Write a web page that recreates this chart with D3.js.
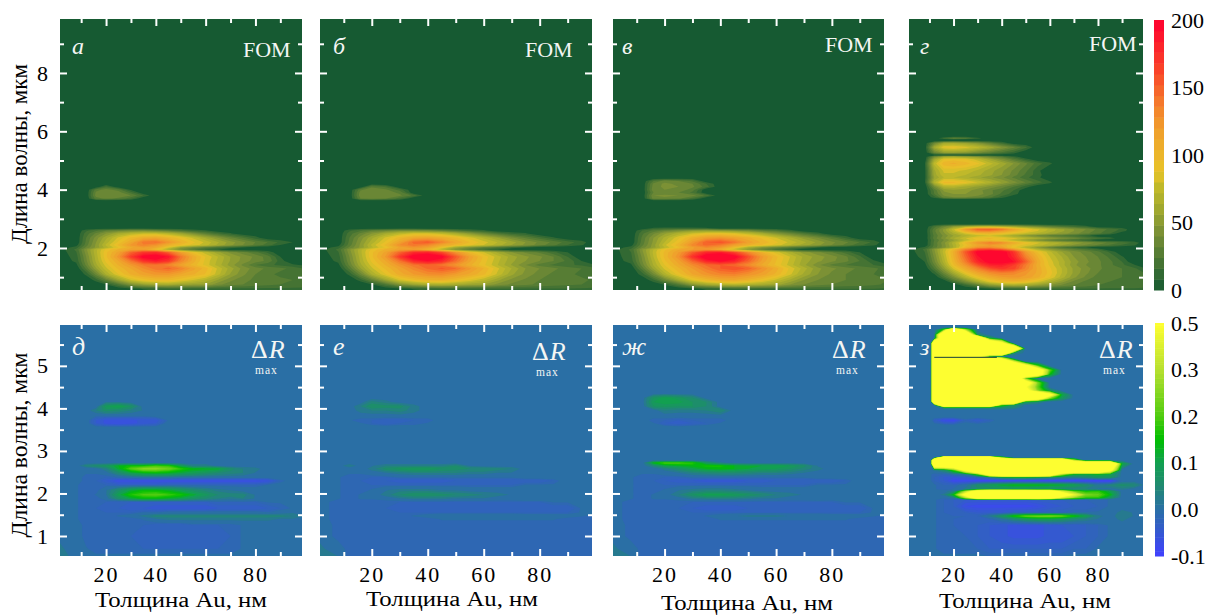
<!DOCTYPE html>
<html>
<head>
<meta charset="utf-8">
<script src="https://cdnjs.cloudflare.com/ajax/libs/d3/7.8.5/d3.min.js"></script>
<style>
  html, body { margin: 0; background: #fff; }
  svg { display: block; font-family: "Liberation Serif", serif; }
</style>
</head>
<body>
<svg id="chart" width="1214" height="615"></svg>
<script>
// thickness columns, nm. Panel z has a sharper left edge so its second column sits further in
const thickness = [0,8,12,16,20,25,30,35,40,45,50,55,60,65,70,75,80,85,90,95,100];
const thicknessD = [0,10.5,12,16,20,25,30,35,40,45,50,55,60,65,70,75,80,85,90,95,100];

// FOM panels: wavelength rows (um) and values, one line per row
const fomRows = [0.4,0.6,0.75,0.9,1.1,1.3,1.42,1.55,1.7,1.85,1.95,2.02,2.1,2.2,2.35,2.5,2.6,2.68,2.76,3.62,3.7,3.8,3.9,4.0,4.1,4.2,4.3,4.4,10];
const fomA = [
  [0,0,0,0,0,0,0,0,0,0,0,0,0,0,0,0,0,0,0,0,0],
  [0,0,0,0,0,0,4,9,12,14,14,14,14,14,14,14,14,14,14,14,14],
  [0,0,0,0,8,24,45,55,62,64,60,55,55,42,36,32,28,26,24,22,20],
  [0,0,0,12,32,58,80,92,98,98,90,80,70,55,42,35,30,28,26,24,20],
  [0,0,10,36,65,88,105,115,122,122,112,105,95,75,55,42,32,26,22,20,16],
  [0,0,26,55,78,98,112,128,140,148,135,115,100,78,60,45,36,30,26,22,15],
  [0,5,34,62,84,105,122,138,142,132,115,100,85,68,52,38,24,18,14,10,6],
  [0,10,38,66,90,112,140,172,186,172,134,108,85,70,55,45,36,30,12,0,0],
  [0,12,40,68,94,124,168,200,205,190,142,110,88,72,56,46,38,28,8,0,0],
  [0,15,44,70,94,115,148,170,175,150,118,92,75,58,45,35,26,14,0,0,0],
  [0,18,46,70,90,105,115,115,95,65,40,25,15,8,0,0,0,0,0,0,0],
  [0,12,34,50,68,88,110,120,112,85,55,40,30,22,15,8,0,0,0,0,0],
  [0,4,28,50,74,98,122,135,125,105,95,85,75,62,50,40,30,20,8,0,0],
  [0,0,26,48,68,90,112,140,145,125,105,90,78,65,52,42,32,24,14,8,0],
  [0,0,24,44,62,82,98,108,112,102,92,78,62,48,35,24,12,0,0,0,0],
  [0,0,20,34,48,62,72,78,78,70,58,44,30,18,9,0,0,0,0,0,0],
  [0,0,14,22,30,36,40,40,36,30,22,14,9,0,0,0,0,0,0,0,0],
  [0,0,0,0,0,0,0,0,0,0,0,0,0,0,0,0,0,0,0,0,0],
  [0,0,0,0,0,0,0,0,0,0,0,0,0,0,0,0,0,0,0,0,0],
  [0,0,0,0,0,0,0,0,0,0,0,0,0,0,0,0,0,0,0,0,0],
  [0,0,0,28,34,30,18,0,0,0,0,0,0,0,0,0,0,0,0,0,0],
  [0,0,0,36,40,38,32,16,0,0,0,0,0,0,0,0,0,0,0,0,0],
  [0,0,0,34,40,36,20,0,0,0,0,0,0,0,0,0,0,0,0,0,0],
  [0,0,0,28,36,28,6,0,0,0,0,0,0,0,0,0,0,0,0,0,0],
  [0,0,0,0,20,0,0,0,0,0,0,0,0,0,0,0,0,0,0,0,0],
  [0,0,0,0,0,0,0,0,0,0,0,0,0,0,0,0,0,0,0,0,0],
  [0,0,0,0,0,0,0,0,0,0,0,0,0,0,0,0,0,0,0,0,0],
  [0,0,0,0,0,0,0,0,0,0,0,0,0,0,0,0,0,0,0,0,0],
  [0,0,0,0,0,0,0,0,0,0,0,0,0,0,0,0,0,0,0,0,0]
];
const fomB = [
  [0,0,0,0,0,0,0,0,0,0,0,0,0,0,0,0,0,0,0,0,0],
  [0,0,0,0,0,0,4,9,12,14,15,15,15,15,15,15,15,15,15,15,14],
  [0,0,0,0,8,24,46,58,66,68,64,58,56,45,38,34,30,28,26,24,20],
  [0,0,0,12,32,58,82,95,102,104,96,85,74,58,45,38,32,30,28,26,22],
  [0,0,10,36,65,88,108,120,128,130,120,110,98,78,58,45,36,30,26,22,18],
  [0,0,26,55,78,98,115,132,146,155,145,122,104,82,64,48,40,34,28,24,18],
  [0,5,34,62,84,105,125,142,148,140,124,106,90,72,55,40,28,22,18,14,8],
  [0,10,38,66,90,112,142,178,192,180,145,114,92,74,58,48,40,32,22,8,0],
  [0,12,40,68,94,122,170,206,212,200,155,118,94,76,60,50,42,32,16,0,0],
  [0,15,44,70,94,115,148,176,182,160,126,98,80,62,48,38,30,18,8,0,0],
  [0,18,46,70,90,105,116,118,100,70,44,28,16,8,0,0,0,0,0,0,0],
  [0,12,34,50,70,90,114,125,118,92,60,44,32,24,15,8,0,0,0,0,0],
  [0,4,28,50,74,98,128,142,132,112,100,90,80,68,56,46,36,26,16,9,0],
  [0,0,26,48,68,90,116,148,155,135,112,96,84,72,60,48,38,30,20,12,0],
  [0,0,24,44,62,82,100,112,116,108,98,84,70,56,42,30,20,9,0,0,0],
  [0,0,20,34,48,62,74,82,82,76,64,50,36,24,14,9,0,0,0,0,0],
  [0,0,14,22,30,36,42,42,38,32,24,16,10,0,0,0,0,0,0,0,0],
  [0,0,0,0,0,0,0,0,0,0,0,0,0,0,0,0,0,0,0,0,0],
  [0,0,0,0,0,0,0,0,0,0,0,0,0,0,0,0,0,0,0,0,0],
  [0,0,0,0,0,0,0,0,0,0,0,0,0,0,0,0,0,0,0,0,0],
  [0,0,0,32,36,32,20,0,0,0,0,0,0,0,0,0,0,0,0,0,0],
  [0,0,0,38,40,38,34,22,0,0,0,0,0,0,0,0,0,0,0,0,0],
  [0,0,0,36,40,36,30,0,0,0,0,0,0,0,0,0,0,0,0,0,0],
  [0,0,0,30,38,34,20,0,0,0,0,0,0,0,0,0,0,0,0,0,0],
  [0,0,0,0,30,22,0,0,0,0,0,0,0,0,0,0,0,0,0,0,0],
  [0,0,0,0,0,0,0,0,0,0,0,0,0,0,0,0,0,0,0,0,0],
  [0,0,0,0,0,0,0,0,0,0,0,0,0,0,0,0,0,0,0,0,0],
  [0,0,0,0,0,0,0,0,0,0,0,0,0,0,0,0,0,0,0,0,0],
  [0,0,0,0,0,0,0,0,0,0,0,0,0,0,0,0,0,0,0,0,0]
];
const fomC = [
  [0,0,0,0,0,0,0,0,0,0,0,0,0,0,0,0,0,0,0,0,0],
  [0,0,0,0,0,0,5,10,13,15,16,16,16,16,16,16,16,16,16,16,15],
  [0,0,0,0,9,26,50,62,70,74,70,64,60,48,40,36,32,30,28,26,22],
  [0,0,0,14,36,62,86,100,108,110,102,92,78,62,48,40,34,32,30,28,24],
  [0,0,12,38,68,92,112,124,134,136,126,116,102,82,62,48,38,32,28,24,20],
  [0,0,28,58,82,102,120,138,152,160,150,128,108,86,68,50,42,36,30,26,20],
  [0,6,36,65,88,110,130,146,152,146,130,110,94,76,58,42,30,24,20,16,10],
  [0,12,40,68,94,116,148,182,196,184,150,118,96,78,60,50,42,34,24,10,0],
  [0,14,42,72,98,126,174,208,214,204,160,122,98,80,62,52,44,34,18,0,0],
  [0,16,46,74,98,120,152,180,186,165,132,104,84,66,52,42,32,20,8,0,0],
  [0,18,48,72,94,110,120,122,105,75,50,32,20,10,0,0,0,0,0,0,0],
  [0,12,36,52,72,94,118,130,122,96,66,48,36,28,20,10,0,0,0,0,0],
  [0,4,30,52,78,102,132,148,138,118,105,95,85,72,60,50,40,30,18,10,0],
  [0,0,28,50,72,94,122,152,158,142,118,102,90,78,66,54,42,34,24,14,0],
  [0,0,26,48,66,86,106,120,124,116,106,94,80,66,52,40,28,14,0,0,0],
  [0,0,22,38,54,68,80,88,90,84,74,62,48,36,24,12,0,0,0,0,0],
  [0,0,16,26,34,42,50,52,50,46,40,30,22,12,0,0,0,0,0,0,0],
  [0,0,0,10,12,12,12,10,0,0,0,0,0,0,0,0,0,0,0,0,0],
  [0,0,0,0,0,0,0,0,0,0,0,0,0,0,0,0,0,0,0,0,0],
  [0,0,0,0,0,0,0,0,0,0,0,0,0,0,0,0,0,0,0,0,0],
  [0,0,0,36,38,34,20,0,0,0,0,0,0,0,0,0,0,0,0,0,0],
  [0,0,0,40,42,40,36,22,0,0,0,0,0,0,0,0,0,0,0,0,0],
  [0,0,0,32,34,32,22,0,0,0,0,0,0,0,0,0,0,0,0,0,0],
  [0,0,0,38,40,38,28,0,0,0,0,0,0,0,0,0,0,0,0,0,0],
  [0,0,0,36,42,40,34,20,0,0,0,0,0,0,0,0,0,0,0,0,0],
  [0,0,0,34,42,38,32,16,0,0,0,0,0,0,0,0,0,0,0,0,0],
  [0,0,0,24,36,32,22,0,0,0,0,0,0,0,0,0,0,0,0,0,0],
  [0,0,0,0,0,0,0,0,0,0,0,0,0,0,0,0,0,0,0,0,0],
  [0,0,0,0,0,0,0,0,0,0,0,0,0,0,0,0,0,0,0,0,0]
];

// panel g has its own rows, the upper group is much taller
const fomRowsD = [0.4,0.6,0.72,0.85,1.0,1.14,1.3,1.42,1.53,1.7,1.87,1.96,2.02,2.09,2.18,2.27,2.33,2.42,2.5,2.58,2.64,2.74,2.82,3.66,3.74,3.85,3.98,4.1,4.25,4.42,4.5,4.65,4.9,5.04,5.13,5.18,5.27,5.45,5.6,5.68,5.71,5.76,5.83,10];
const fomD = [
  [0,0,0,0,0,0,0,0,0,0,0,0,0,0,0,0,0,0,0,0,0],
  [0,0,0,0,0,0,0,6,12,14,15,15,15,15,15,15,15,15,15,15,15],
  [0,0,0,0,0,14,30,48,58,62,60,54,46,38,32,28,24,22,22,20,18],
  [0,0,0,0,20,42,66,86,98,102,96,84,68,52,38,30,26,24,22,22,20],
  [0,0,0,20,42,70,92,108,118,122,118,106,88,68,50,38,28,26,24,22,18],
  [0,0,10,36,62,90,112,128,136,132,122,110,92,72,54,42,32,28,24,22,15],
  [0,0,24,52,82,110,135,158,170,164,134,110,90,72,54,44,34,28,24,18,8],
  [0,4,32,62,95,125,158,182,185,168,138,108,86,68,50,40,34,26,18,9,0],
  [0,8,38,68,100,138,180,200,202,192,152,110,84,68,52,42,34,26,16,0,0],
  [0,12,42,72,104,148,190,206,206,180,136,104,80,64,48,40,32,22,9,0,0],
  [0,16,46,76,106,155,200,212,206,172,122,94,74,56,44,36,26,14,0,0,0],
  [0,18,48,74,98,132,158,162,148,120,92,70,52,40,30,22,14,0,0,0,0],
  [0,10,28,44,64,100,125,130,118,90,70,50,34,22,14,8,0,0,0,0,0],
  [0,0,26,44,66,92,112,120,110,94,84,76,66,56,46,38,30,22,14,9,0],
  [0,0,26,46,68,98,124,138,130,110,94,82,72,64,56,46,38,30,22,14,0],
  [0,0,24,40,54,74,90,94,86,72,56,44,32,24,18,12,0,0,0,0,0],
  [0,0,28,46,64,80,94,98,92,84,74,64,54,46,38,28,20,14,0,0,0],
  [0,0,26,42,56,68,76,80,72,60,48,38,30,24,18,12,0,0,0,0,0],
  [0,0,28,46,64,82,98,100,94,86,78,70,60,52,44,34,26,16,0,0,0],
  [0,0,30,50,74,108,132,134,120,104,92,80,68,58,48,38,28,20,12,0,0],
  [0,0,28,50,78,122,150,155,142,116,96,82,70,58,48,40,30,22,14,0,0],
  [0,0,20,36,50,60,66,66,62,56,48,40,30,24,18,12,0,0,0,0,0],
  [0,0,0,0,0,0,0,0,0,0,0,0,0,0,0,0,0,0,0,0,0],
  [0,0,0,0,0,0,0,0,0,0,0,0,0,0,0,0,0,0,0,0,0],
  [0,0,12,36,40,40,36,26,12,0,0,0,0,0,0,0,0,0,0,0,0],
  [0,0,24,44,48,48,44,36,22,12,0,0,0,0,0,0,0,0,0,0,0],
  [0,0,26,50,54,52,44,34,26,16,0,0,0,0,0,0,0,0,0,0,0],
  [0,0,40,68,70,62,54,46,36,24,12,0,0,0,0,0,0,0,0,0,0],
  [0,6,70,98,98,90,80,68,56,44,32,20,10,0,0,0,0,0,0,0,0],
  [0,4,56,72,72,66,58,50,42,30,18,10,0,0,0,0,0,0,0,0,0],
  [0,4,60,78,78,72,66,58,48,36,22,12,0,0,0,0,0,0,0,0,0],
  [0,4,62,82,82,78,70,60,50,38,26,10,0,0,0,0,0,0,0,0,0],
  [0,6,75,102,106,100,90,76,62,48,34,20,10,0,0,0,0,0,0,0,0],
  [0,0,60,88,92,88,76,60,44,28,12,0,0,0,0,0,0,0,0,0,0],
  [0,0,40,60,62,58,50,38,26,12,0,0,0,0,0,0,0,0,0,0,0],
  [0,0,0,0,0,0,0,0,0,0,0,0,0,0,0,0,0,0,0,0,0],
  [0,0,36,54,56,52,42,32,22,12,0,0,0,0,0,0,0,0,0,0,0],
  [0,0,62,88,90,84,74,62,48,34,18,0,0,0,0,0,0,0,0,0,0],
  [0,0,36,60,62,56,46,32,16,0,0,0,0,0,0,0,0,0,0,0,0],
  [0,0,0,0,0,0,0,0,0,0,0,0,0,0,0,0,0,0,0,0,0],
  [0,0,0,0,0,0,0,0,0,0,0,0,0,0,0,0,0,0,0,0,0],
  [0,0,0,18,34,28,12,0,0,0,0,0,0,0,0,0,0,0,0,0,0],
  [0,0,0,0,0,0,0,0,0,0,0,0,0,0,0,0,0,0,0,0,0],
  [0,0,0,0,0,0,0,0,0,0,0,0,0,0,0,0,0,0,0,0,0]
];

// dR panels, values in hundredths
const dRRows = [0.4,0.7,1.0,1.25,1.4,1.47,1.55,1.65,1.8,1.88,1.97,2.08,2.2,2.3,2.38,2.48,2.58,2.65,2.72,2.78,3.55,3.65,3.72,3.82,3.95,4.05,4.15,4.25,4.35,6.2];
const dRA = [
  [2,1,0,0,0,0,0,0,0,0,0,0,0,0,0,0,0,0,0,0,0],
  [2,0,-1,-2,-2,-2,-2,-2,-2,-2,-2,-2,-2,-2,-2,-1,-1,-1,-1,-1,-1],
  [1,0,-2,-2,-2,-2,-2,-3,-3,-3,-3,-3,-3,-3,-2,-1,-1,-1,-1,-1,-1],
  [0,0,-2,-2,-2,-2,-2,-2,-3,-3,-3,-2,-2,-2,-2,-1,-1,-1,-1,-1,0],
  [0,-1,-2,-2,-2,-2,-2,-1,1,2,2,2,2,2,2,2,2,2,1,1,0],
  [0,-1,-2,-2,-2,-1,0,2,4,4,4,4,4,4,4,4,4,4,4,3,1],
  [0,-1,-2,-2,-2,-2,-2,-1,-1,0,0,0,0,0,0,0,0,-1,0,1,0],
  [0,-1,-2,-2,-3,-3,-4,-4,-5,-5,-5,-5,-5,-4,-4,-4,-4,-3,-2,-1,0],
  [0,-1,-2,-2,-2,-3,-3,-3,-3,-3,-3,-3,-3,-2,-2,-2,-2,-1,-1,0,0],
  [0,-1,-2,-2,0,6,11,14,14,12,10,7,5,3,2,3,1,0,0,0,0],
  [0,-1,-2,-1,1,10,17,20,21,19,16,12,8,5,4,4,1,0,0,0,0],
  [0,-1,-2,-2,1,6,11,14,14,12,9,6,4,2,1,0,0,0,0,0,0],
  [0,-1,-2,-2,-2,-3,-3,-3,-3,-2,-2,-2,-2,-2,-2,-2,-2,-1,0,0,0],
  [0,0,-2,-2,-4,-7,-7,-7,-7,-7,-7,-7,-7,-7,-7,-7,-7,-6,-2,0,0],
  [0,0,-2,-2,-2,-1,0,1,1,1,0,0,0,0,0,0,0,0,1,1,0],
  [0,0,-1,-1,0,5,10,13,14,13,11,9,7,5,4,3,1,1,0,0,0],
  [0,0,-1,0,3,12,21,26,26,23,18,14,13,12,6,3,2,0,0,0,0],
  [0,0,4,6,8,13,16,16,19,18,10,3,3,0,0,0,0,0,0,0,0],
  [0,0,0,0,0,0,0,0,0,0,0,0,0,0,0,0,0,0,0,0,0],
  [0,0,0,0,0,0,0,0,0,0,0,0,0,0,0,0,0,0,0,0,0],
  [0,0,0,0,0,0,0,0,0,0,0,0,0,0,0,0,0,0,0,0,0],
  [0,0,0,-4,-6,-7,-6,-5,-4,0,0,0,0,0,0,0,0,0,0,0,0],
  [0,0,0,-4,-6,-6,-6,-5,-5,-1,0,0,0,0,0,0,0,0,0,0,0],
  [0,0,0,-1,-1,-1,-1,-1,0,0,0,0,0,0,0,0,0,0,0,0,0],
  [0,0,0,3,6,5,3,1,0,0,0,0,0,0,0,0,0,0,0,0,0],
  [0,0,0,0,9,11,7,0,0,0,0,0,0,0,0,0,0,0,0,0,0],
  [0,0,0,0,1,1,0,0,0,0,0,0,0,0,0,0,0,0,0,0,0],
  [0,0,0,0,0,0,0,0,0,0,0,0,0,0,0,0,0,0,0,0,0],
  [0,0,0,0,0,0,0,0,0,0,0,0,0,0,0,0,0,0,0,0,0],
  [0,0,0,0,0,0,0,0,0,0,0,0,0,0,0,0,0,0,0,0,0]
];
const dRB = [
  [2,2,-2,-2,-2,-2,-2,-2,-2,-2,-2,-2,-2,-2,-2,-2,-2,-2,-2,-2,-2],
  [2,0,-2,-2,-2,-2,-2,-2,-2,-2,-2,-2,-2,-2,-2,-2,-2,-2,-2,-2,-2],
  [1,-2,-2,-2,-2,-2,-2,-2,-2,-2,-2,-2,-2,-2,-2,-2,-2,-2,-2,-2,-2],
  [1,-2,-2,-2,-2,-2,-2,-2,-2,-2,-2,-2,-2,-2,-2,-2,-2,-2,-2,-2,-2],
  [0,-2,-2,-2,-2,-2,-2,-2,-2,-1,-1,-1,-1,-1,-1,-1,-1,-1,-2,-2,-2],
  [0,-2,-2,-2,-2,-2,-2,-1,0,1,1,1,1,1,1,0,0,0,0,-1,-2],
  [0,-2,-2,-2,-2,-2,-2,-2,-2,-2,-2,-2,-2,-2,-2,-2,-2,-2,-2,-1,0],
  [0,-2,-2,-2,-2,-2,-3,-3,-3,-3,-3,-3,-3,-3,-3,-3,-3,-3,-3,-1,0],
  [0,-2,-2,-2,-2,-2,-2,-2,-2,-2,-2,-2,-2,-2,-2,-2,-2,-1,-1,0,0],
  [0,-1,-2,-1,-1,0,1,2,2,2,1,1,1,0,0,1,1,0,0,0,0],
  [0,-1,-2,-1,0,2,5,7,7,6,5,4,3,2,1,1,0,0,0,0,0],
  [0,-1,-2,-2,-1,1,2,2,2,1,1,0,0,0,0,0,0,0,0,0,0],
  [0,-1,-2,-2,-2,-2,-2,-2,-2,-2,-2,-2,-2,-2,-2,-1,-1,-1,0,0,0],
  [0,-1,-2,-2,-3,-3,-4,-4,-4,-4,-3,-3,-3,-3,-3,-3,-3,-2,0,0,0],
  [0,-1,-2,-2,-2,-2,-1,-1,-1,-1,-1,-1,-1,-1,-1,0,0,0,0,0,0],
  [0,0,-1,-1,0,1,2,3,3,3,3,2,2,1,1,0,0,0,0,0,0],
  [0,0,-1,0,2,6,8,9,9,7,6,5,5,4,3,0,0,0,0,0,0],
  [0,0,3,0,1,3,3,3,3,3,5,1,0,0,0,0,0,0,0,0,0],
  [0,0,0,0,0,0,0,0,0,0,0,0,0,0,0,0,0,0,0,0,0],
  [0,0,0,0,0,0,0,0,0,0,0,0,0,0,0,0,0,0,0,0,0],
  [0,0,0,0,0,0,0,0,0,0,0,0,0,0,0,0,0,0,0,0,0],
  [0,0,0,-1,-2,-3,-2,-2,-1,0,0,0,0,0,0,0,0,0,0,0,0],
  [0,0,-1,-2,-2,-3,-3,-2,-2,0,0,0,0,0,0,0,0,0,0,0,0],
  [0,0,0,0,0,0,0,0,0,0,0,0,0,0,0,0,0,0,0,0,0],
  [0,0,0,2,3,3,4,2,0,0,0,0,0,0,0,0,0,0,0,0,0],
  [0,0,0,3,7,6,6,2,0,0,0,0,0,0,0,0,0,0,0,0,0],
  [0,0,0,0,4,2,0,0,0,0,0,0,0,0,0,0,0,0,0,0,0],
  [0,0,0,0,0,0,0,0,0,0,0,0,0,0,0,0,0,0,0,0,0],
  [0,0,0,0,0,0,0,0,0,0,0,0,0,0,0,0,0,0,0,0,0],
  [0,0,0,0,0,0,0,0,0,0,0,0,0,0,0,0,0,0,0,0,0]
];
const dRC = [
  [2,2,-2,-2,-2,-2,-2,-2,-2,-2,-2,-2,-2,-2,-2,-2,-2,-2,-2,-2,-2],
  [2,0,-2,-2,-2,-2,-2,-2,-2,-2,-2,-2,-2,-2,-2,-2,-2,-2,-2,-2,-2],
  [1,-2,-2,-2,-2,-2,-2,-2,-2,-2,-2,-2,-2,-2,-2,-2,-2,-2,-2,-2,-2],
  [1,-2,-2,-2,-2,-2,-2,-2,-2,-2,-2,-2,-2,-2,-2,-2,-2,-2,-2,-2,-2],
  [0,-2,-2,-2,-2,-2,-2,-2,-1,-1,-1,-1,-1,-1,-1,-1,-1,-1,-2,-2,-2],
  [0,-2,-2,-2,-2,-2,-2,-1,0,1,2,2,2,1,1,1,0,0,0,-1,-2],
  [0,-2,-2,-2,-2,-2,-2,-2,-2,-2,-2,-2,-2,-2,-2,-2,-2,-2,-2,-1,0],
  [0,-2,-2,-2,-2,-2,-3,-4,-4,-4,-3,-3,-3,-3,-3,-3,-3,-3,-3,-1,0],
  [0,-2,-2,-2,-2,-2,-2,-2,-2,-2,-2,-2,-2,-2,-2,-2,-2,-1,-1,0,0],
  [0,-1,-2,-1,-1,0,2,3,3,3,2,1,1,0,0,1,0,0,0,0,0],
  [0,-1,-2,-1,0,3,7,10,10,9,7,5,3,2,1,1,0,0,0,0,0],
  [0,-1,-2,-2,-1,1,2,3,3,2,1,0,0,0,0,0,0,0,0,0,0],
  [0,-1,-2,-2,-2,-2,-2,-2,-2,-2,-2,-2,-2,-2,-2,-1,-1,-1,0,0,0],
  [0,-1,-2,-2,-3,-4,-4,-5,-5,-5,-4,-4,-3,-3,-3,-3,-3,-2,0,0,0],
  [0,-1,-2,-2,-2,-2,-1,-1,-1,-1,-1,-1,-1,-1,-1,0,0,0,0,0,0],
  [0,0,-1,-1,0,1,3,4,5,5,4,3,3,2,1,0,0,0,0,0,0],
  [0,0,-1,0,2,6,10,13,14,13,11,10,9,7,4,2,0,0,0,0,0],
  [0,0,0,4,10,12,14,16,16,13,11,11,11,9,6,1,1,0,0,0,0],
  [0,0,0,14,20,20,18,8,2,0,0,0,0,0,0,0,0,0,0,0,0],
  [0,0,0,0,0,0,0,0,0,0,0,0,0,0,0,0,0,0,0,0,0],
  [0,0,0,0,0,0,0,0,0,0,0,0,0,0,0,0,0,0,0,0,0],
  [0,0,0,-1,-3,-4,-3,-2,-1,0,0,0,0,0,0,0,0,0,0,0,0],
  [0,0,0,-2,-2,-3,-2,-2,-2,0,0,0,0,0,0,0,0,0,0,0,0],
  [0,0,0,0,0,0,0,0,0,0,0,0,0,0,0,0,0,0,0,0,0],
  [0,0,0,0,3,2,2,3,5,0,0,0,0,0,0,0,0,0,0,0,0],
  [0,0,0,7,8,7,7,5,0,0,0,0,0,0,0,0,0,0,0,0,0],
  [0,0,0,9,10,10,7,5,0,0,0,0,0,0,0,0,0,0,0,0,0],
  [0,0,0,7,10,8,5,0,0,0,0,0,0,0,0,0,0,0,0,0,0],
  [0,0,0,0,0,0,0,0,0,0,0,0,0,0,0,0,0,0,0,0,0],
  [0,0,0,0,0,0,0,0,0,0,0,0,0,0,0,0,0,0,0,0,0]
];

// panel z is saturated over most of its bands, 100 means off the scale
const dRRowsD = [0.4,0.7,1.0,1.25,1.4,1.47,1.55,1.7,1.85,1.9,1.97,2.05,2.1,2.2,2.3,2.38,2.45,2.55,2.7,2.78,2.84,2.88,3.6,3.72,3.8,3.96,4.02,4.08,4.16,4.24,4.32,4.42,4.5,4.6,4.71,4.8,4.9,5.0,5.1,5.18,5.22,5.3,5.41,5.53,5.65,5.73,5.85,5.9,6.2];
const dRD = [
  [1,0,0,0,0,0,0,0,0,0,0,0,0,0,0,0,0,0,0,0,0],
  [0,0,-1,-2,-2,-2,-2,-3,-3,-3,-3,-3,-3,-3,-2,-2,-1,-1,0,0,0],
  [0,0,-1,-2,-2,-2,-3,-4,-5,-6,-6,-6,-5,-5,-4,-3,-2,-1,0,0,0],
  [0,0,-1,-2,-2,-3,-3,-4,-5,-6,-6,-6,-5,-4,-4,-3,-2,-1,0,0,0],
  [0,0,-1,-2,-2,-3,-3,-2,1,5,8,10,10,8,5,3,1,0,2,0,0],
  [0,0,-1,-2,-2,-2,-2,2,8,16,22,24,24,22,16,10,2,0,3,1,0],
  [0,0,-1,-2,-3,-3,-4,-4,-4,-3,-3,-3,-2,-2,-1,-1,-1,0,2,1,0],
  [0,0,-1,-2,-3,-7,-8,-8,-8,-8,-8,-7,-5,-4,-3,-3,-2,-1,0,0,0],
  [0,0,-1,-2,-3,-4,-4,-4,-4,-4,-4,-3,-3,-3,-2,-2,-2,-1,0,0,0],
  [0,0,-1,-1,2,30,70,80,80,80,80,80,70,40,26,18,18,8,0,0,0],
  [0,0,0,2,15,60,100,100,100,100,100,100,100,70,45,25,22,14,0,0,0],
  [0,0,-1,0,3,30,65,80,80,75,75,75,70,40,22,16,18,10,0,0,0],
  [0,0,-1,-2,-1,2,5,6,6,6,6,5,5,4,3,3,1,0,2,0,0],
  [0,0,-1,-2,-2,0,6,9,12,14,14,14,13,12,10,6,2,4,6,5,0],
  [0,-1,-2,-4,-8,-8,-9,-9,-9,-9,-9,-9,-9,-9,-9,-9,-9,-10,-1,0,0],
  [0,-1,-2,-4,-5,-4,-2,2,8,10,10,8,6,4,3,5,8,8,0,0,0],
  [0,-1,-2,-2,0,2,20,70,100,100,100,100,80,30,12,10,12,10,0,0,0],
  [0,0,2,6,20,60,100,100,100,100,100,100,100,100,100,100,100,60,0,0,0],
  [0,0,100,100,100,100,100,100,100,100,100,100,100,100,100,100,100,100,12,0,0],
  [0,0,100,100,100,100,100,100,100,100,100,100,100,100,30,0,0,0,0,0,0],
  [0,0,0,100,100,100,100,100,30,0,0,0,0,0,0,0,0,0,0,0,0],
  [0,0,0,0,0,0,0,0,0,0,0,0,0,0,0,0,0,0,0,0,0],
  [0,0,0,0,0,0,0,0,0,0,0,0,0,0,0,0,0,0,0,0,0],
  [0,0,-3,-7,-8,-2,-4,-2,0,0,0,0,0,0,0,0,0,0,0,0,0],
  [0,0,0,0,0,0,0,0,0,0,0,0,0,0,0,0,0,0,0,0,0],
  [0,0,0,0,0,0,0,0,0,0,0,0,0,0,0,0,0,0,0,0,0],
  [0,0,0,5,6,5,5,5,6,4,0,0,0,0,0,0,0,0,0,0,0],
  [0,0,0,100,100,100,100,100,20,8,0,0,0,0,0,0,0,0,0,0,0],
  [0,0,100,100,100,100,100,100,100,100,12,6,0,0,0,0,0,0,0,0,0],
  [0,0,100,100,100,100,100,100,100,100,100,70,25,8,0,0,0,0,0,0,0],
  [0,0,100,100,100,100,100,100,100,100,100,100,60,12,0,0,0,0,0,0,0],
  [0,0,100,100,100,100,100,100,100,100,60,25,8,0,0,0,0,0,0,0,0],
  [0,0,100,100,100,100,100,100,100,100,50,22,0,0,0,0,0,0,0,0,0],
  [0,0,100,100,100,100,100,100,100,100,70,25,0,0,0,0,0,0,0,0,0],
  [0,0,100,100,100,100,100,100,100,100,20,0,0,0,0,0,0,0,0,0,0],
  [0,0,100,100,100,100,100,100,100,100,100,70,15,0,0,0,0,0,0,0,0],
  [0,0,100,100,100,100,100,100,100,100,100,70,22,0,0,0,0,0,0,0,0],
  [0,0,100,100,100,100,100,100,100,100,60,20,0,0,0,0,0,0,0,0,0],
  [0,0,100,100,100,100,100,100,100,40,0,0,0,0,0,0,0,0,0,0,0],
  [0,0,100,100,100,100,100,100,40,0,0,0,0,0,0,0,0,0,0,0,0],
  [0,0,100,100,100,100,50,0,0,0,0,0,0,0,0,0,0,0,0,0,0],
  [0,0,100,100,100,100,100,100,100,5,0,0,0,0,0,0,0,0,0,0,0],
  [0,0,100,100,100,100,100,100,100,100,0,0,0,0,0,0,0,0,0,0,0],
  [0,0,100,100,100,100,100,100,60,0,0,0,0,0,0,0,0,0,0,0,0],
  [0,0,0,100,100,100,100,10,0,0,0,0,0,0,0,0,0,0,0,0,0],
  [0,0,0,100,100,100,5,0,0,0,0,0,0,0,0,0,0,0,0,0,0],
  [0,0,0,20,100,30,0,0,0,0,0,0,0,0,0,0,0,0,0,0,0],
  [0,0,0,0,0,0,0,0,0,0,0,0,0,0,0,0,0,0,0,0,0],
  [0,0,0,0,0,0,0,0,0,0,0,0,0,0,0,0,0,0,0,0,0]
];
// thin dark seam across the top yellow block of panel z: [wavelength, from, to]
const seamD = [5.2, 12, 38];

// tick values and labels
const xMajor = [20,40,60,80], xMinor = [10,30,50,70,90];
const fomMajor = [2,4,6,8], fomMinor = [1,3,5,7,9];
const dRMajor = [1,2,3,4,5], dRMinor = [1.5,2.5,3.5,4.5,5.5];
const fomBarTicks = [0,50,100,150,200];
const dRBarTicks = [-0.1,0,0.1,0.2,0.3,0.5];
const lettersTop = ["а","б","в","г"], lettersBottom = ["д","е","ж","з"];

// colours
const fomColor = d3.scaleLinear()
  .domain([0,43,60,76,88,118,137,165,200])
  .range(["#165a32","#7a9035","#a0a82f","#c0b92a","#e8c428","#f0a02c","#f47f2c","#fa4028","#ff0030"]);
const dRColor = d3.scaleLinear()
  .domain([-0.1,0,0.05,0.1,0.15,0.2,0.3,0.5])
  .range(["#4040ff","#2a6fa5","#208a70","#12a050","#00bf00","#50cc10","#b8e030","#ffff30"]);
const fomLevels = d3.range(8, 200, 8);
const dRLevels = [-8.5,-7,-5.5,-4,-3,-2,-1.2,1.2].concat(d3.range(3, 50, 2));

// layout
const columns = [
  { left: 60, right: 302, topX: 72, labelX: 181, labelY: 607 },
  { left: 320, right: 592, topX: 333, labelX: 452, labelY: 606 },
  { left: 613, right: 884, topX: 622, labelX: 747, labelY: 610 },
  { left: 909, right: 1143, topX: 920, labelX: 1025, labelY: 608 }
];
const topRow = { top: 19, bottom: 290 }, bottomRow = { top: 325, bottom: 556 };
const xDomain = [1.5, 98.7];

const svg = d3.select("#chart");
const defs = svg.append("defs");
let clipCount = 0;

function drawPanel(col, row, cols, rows, matrix, levels, toColor, y, major, minor, showLeft, showBottom) {
  const x = d3.scaleLinear().domain(xDomain).range([col.left, col.right]);
  const w = col.right - col.left, h = row.bottom - row.top;
  const clipId = "clip" + clipCount++;
  defs.append("clipPath").attr("id", clipId)
    .append("rect").attr("x", col.left).attr("y", row.top).attr("width", w).attr("height", h);

  // grid index to data value, rows and columns are not evenly spaced
  const colScale = d3.scaleLinear().domain(d3.range(cols.length)).range(cols);
  const rowScale = d3.scaleLinear().domain(d3.range(rows.length)).range(rows);
  const path = d3.geoPath(d3.geoTransform({
    point(px, py) { this.stream.point(x(colScale(px - 0.5)), y(rowScale(py - 0.5))); }
  }));

  const g = svg.append("g").attr("clip-path", "url(#" + clipId + ")");
  g.append("rect").attr("x", col.left).attr("y", row.top).attr("width", w).attr("height", h)
    .attr("fill", toColor(levels.base));

  const contours = d3.contours().size([cols.length, rows.length]).smooth(true)
    .thresholds(levels.list)(matrix.flat());
  g.selectAll("path").data(contours).enter().append("path")
    .attr("d", path)
    .attr("fill", (d, i) => toColor(levels.mid(i)));

  // ticks point inward on all four sides
  const addAxis = (axis, tx, ty) => {
    const a = svg.append("g").attr("transform", "translate(" + tx + "," + ty + ")").call(axis);
    a.select(".domain").remove();
    a.selectAll("line").attr("stroke", "#fff").attr("stroke-width", 2);
    return a;
  };
  const ticksOnly = (axis, tx, ty) => addAxis(axis, tx, ty).selectAll("text").remove();
  ticksOnly(d3.axisTop(x).tickValues(xMajor).tickSize(-7), 0, row.top);
  ticksOnly(d3.axisTop(x).tickValues(xMinor).tickSize(-4), 0, row.top);
  ticksOnly(d3.axisRight(y).tickValues(major).tickSize(-7), col.right, 0);
  ticksOnly(d3.axisRight(y).tickValues(minor).tickSize(-4), col.right, 0);
  ticksOnly(d3.axisLeft(y).tickValues(minor).tickSize(-4), col.left, 0);
  ticksOnly(d3.axisBottom(x).tickValues(xMinor).tickSize(-4), 0, row.bottom);

  const left = addAxis(d3.axisLeft(y).tickValues(major).tickSize(-7).tickPadding(12).tickFormat(d3.format("d")), col.left, 0);
  if (showLeft) {
    left.selectAll("text").attr("font-size", 22).attr("font-family", "Liberation Serif").attr("fill", "#000");
  } else {
    left.selectAll("text").remove();
  }
  const bottom = addAxis(d3.axisBottom(x).tickValues(xMajor).tickSize(-7).tickPadding(10).tickFormat(d3.format("d")), 0, row.bottom);
  if (showBottom) {
    bottom.selectAll("text").attr("font-size", 22).attr("font-family", "Liberation Serif")
      .attr("fill", "#000").attr("letter-spacing", 2);
  } else {
    bottom.selectAll("text").remove();
  }

  return { x, y };
}

function whiteText(x, y, text, size, style) {
  return svg.append("text").attr("x", x).attr("y", y).text(text)
    .attr("font-size", size).attr("fill", "#f4f6f4").attr("font-style", style || "normal");
}

const fomLevelSet = { base: 0, list: fomLevels, mid: (i) => fomLevels[i] + 4 };
const dRLevelSet = {
  base: -10,
  list: dRLevels,
  mid: (i) => (dRLevels[i] + (i + 1 < dRLevels.length ? dRLevels[i + 1] : 50)) / 2
};

const fomY = d3.scaleLinear().domain([0.56, 9.85]).range([topRow.bottom, topRow.top]);
const dRY = d3.scaleLinear().domain([0.53, 5.96]).range([bottomRow.bottom, bottomRow.top]);
const fomPaint = (v) => fomColor(v);
const dRPaint = (v) => dRColor(v / 100);

const fomPanels = [[thickness, fomRows, fomA], [thickness, fomRows, fomB], [thickness, fomRows, fomC], [thickness, fomRowsD, fomD]];
const dRPanels = [[thickness, dRRows, dRA], [thickness, dRRows, dRB], [thickness, dRRows, dRC], [thicknessD, dRRowsD, dRD]];
const fomTextX = [243, 525, 825, 1089], fomTextY = [57, 57, 52, 51];
const dRTextX = [251, 532, 832, 1099], dRTextY = [358, 360, 358, 358];

columns.forEach((col, i) => {
  const f = fomPanels[i], d = dRPanels[i];
  drawPanel(col, topRow, f[0], f[1], f[2], fomLevelSet, fomPaint, fomY, fomMajor, fomMinor, i === 0, false);
  const s = drawPanel(col, bottomRow, d[0], d[1], d[2], dRLevelSet, dRPaint, dRY, dRMajor, dRMinor, i === 0, true);

  if (i === 3) {
    svg.append("line")
      .attr("x1", s.x(seamD[1])).attr("x2", s.x(seamD[2]))
      .attr("y1", s.y(seamD[0])).attr("y2", s.y(seamD[0]))
      .attr("stroke", "#16403a").attr("stroke-width", 1);
  }

  whiteText(col.topX, 54, lettersTop[i], 24, "italic");
  whiteText(col.topX, 355, lettersBottom[i], i === 3 ? 24 : 26, "italic");
  whiteText(fomTextX[i], fomTextY[i], "FOM", 22);

  const dr = svg.append("text").attr("x", dRTextX[i]).attr("y", dRTextY[i])
    .attr("font-size", 26).attr("letter-spacing", 1).attr("fill", "#f4f6f4");
  dr.append("tspan").text("Δ");
  dr.append("tspan").attr("font-style", "italic").text("R");
  whiteText(dRTextX[i] + 4, dRTextY[i] + 16, "max", 11.5).attr("letter-spacing", 1);

  svg.append("text").attr("x", col.labelX).attr("y", col.labelY).text("Толщина Au, нм")
    .attr("text-anchor", "middle").attr("font-size", 20)
    .attr("textLength", 172).attr("lengthAdjust", "spacingAndGlyphs").attr("fill", "#000");
});

// y titles
[[topRow, 154, 180], [bottomRow, 445, 185]].forEach((d) => {
  svg.append("text").attr("transform", "translate(27," + d[1] + ") rotate(-90)")
    .text("Длина волны, мкм").attr("text-anchor", "middle").attr("font-size", 24)
    .attr("textLength", d[2]).attr("lengthAdjust", "spacingAndGlyphs").attr("fill", "#000");
});

// colour bars
const barLeft = 1154, barWidth = 10;
const fomBarY = d3.scaleLinear().domain([0, 200]).range([290, 20]);
svg.append("g").selectAll("rect").data(d3.range(0, 200, 8)).enter().append("rect")
  .attr("x", barLeft).attr("width", barWidth)
  .attr("y", (d) => fomBarY(d + 8)).attr("height", (d) => fomBarY(d) - fomBarY(d + 8) + 0.5)
  .attr("fill", (d) => fomColor(d + 4));
const fomAxis = svg.append("g").attr("transform", "translate(" + (barLeft + barWidth) + ",0)")
  .call(d3.axisRight(fomBarY).tickValues(fomBarTicks).tickSize(0).tickPadding(7).tickFormat(d3.format("d")));
fomAxis.select(".domain").remove();
fomAxis.selectAll("text").attr("font-size", 22).attr("font-family", "Liberation Serif").attr("fill", "#000");

const dRBarY = d3.scaleLinear().domain(dRBarTicks).range([556, 509, 462, 416, 369, 323]);
svg.append("g").selectAll("rect").data(d3.range(-10, 50)).enter().append("rect")
  .attr("x", barLeft + 1).attr("width", barWidth - 1)
  .attr("y", (d) => dRBarY((d + 1) / 100)).attr("height", (d) => dRBarY(d / 100) - dRBarY((d + 1) / 100) + 0.5)
  .attr("fill", (d) => dRColor((d + 0.5) / 100));
const dRAxis = svg.append("g").attr("transform", "translate(" + (barLeft + barWidth) + ",0)")
  .call(d3.axisRight(dRBarY).tickValues(dRBarTicks).tickSize(0).tickPadding(7).tickFormat((d) => d.toFixed(1)));
dRAxis.select(".domain").remove();
dRAxis.selectAll("text").attr("font-size", 22).attr("font-family", "Liberation Serif").attr("fill", "#000");
</script>
</body>
</html>
